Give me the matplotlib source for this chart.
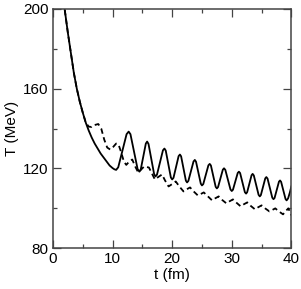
import matplotlib
matplotlib.use("Agg")
import matplotlib.pyplot as plt
from matplotlib.ticker import MultipleLocator

plt.rcParams['font.family'] = ['Liberation Sans', 'DejaVu Sans']

# solid curve: t (fm), T (MeV)
t_solid = [1.8, 2.0, 2.5, 3.0, 3.5, 4.0, 4.5, 5.0, 5.5, 6.0, 6.5, 7.0, 7.5, 8.0,
           8.5, 9.0, 9.5, 10.0, 10.3, 10.6, 10.95, 11.65, 12.35, 12.7,
           13.0, 13.6, 14.2, 14.5, 14.72, 15.15, 15.58, 15.8,
           16.03, 16.5, 16.97, 17.2, 17.45, 17.95, 18.45, 18.7,
           18.92, 19.35, 19.78, 20.0, 20.22, 20.65, 21.08, 21.3,
           21.5, 21.9, 22.3, 22.5, 22.72, 23.15, 23.58, 23.8,
           24.0, 24.4, 24.8, 25.0, 25.22, 25.65, 26.08, 26.3,
           26.5, 26.9, 27.3, 27.5, 27.7, 28.1, 28.5, 28.7,
           28.92, 29.35, 29.78, 30.0, 30.2, 30.6, 31.0, 31.2,
           31.4, 31.8, 32.2, 32.4, 32.58, 32.95, 33.32, 33.5,
           33.7, 34.1, 34.5, 34.7, 34.88, 35.25, 35.62, 35.8,
           36.0, 36.4, 36.8, 37.0, 37.18, 37.55, 37.92, 38.1,
           38.28, 38.65, 39.02, 39.2, 39.45, 39.75, 40.0]
T_solid = [204, 199, 188, 178, 168, 160, 153.5, 148, 143, 139, 135.5, 132.5, 130, 127.5,
           125.5, 123.5, 121.5, 120.2, 119.6, 119.3, 120.6, 128.9, 137.2, 138.5,
           137.2, 128.45, 119.7, 118.4, 119.4, 125.95, 132.5, 133.5,
           132.3, 124.75, 117.2, 116.0, 116.9, 123.0, 129.1, 130.0,
           129.0, 122.25, 115.5, 114.5, 115.3, 120.75, 126.2, 127.0,
           126.1, 120.0, 113.9, 113.0, 113.8, 118.65, 123.5, 124.3,
           123.4, 117.9, 112.4, 111.5, 112.2, 116.9, 121.6, 122.3,
           121.5, 116.15, 110.8, 110.0, 110.7, 115.05, 119.4, 120.1,
           119.3, 114.4, 109.5, 108.7, 109.35, 113.55, 117.75, 118.4,
           117.7, 112.9, 108.1, 107.4, 108.1, 112.35, 116.6, 117.3,
           116.5, 111.65, 106.8, 106.0, 106.65, 110.85, 115.05, 115.7,
           114.95, 110.15, 105.35, 104.6, 105.2, 109.3, 113.4, 114.0,
           113.3, 109.0, 104.7, 104.0, 105.0, 108.0, 111.0]

# dashed curve
t_dash = [1.8, 2.0, 2.5, 3.0, 3.5, 4.0, 4.5, 5.0, 5.5, 6.0, 6.5, 7.0, 7.6, 8.1,
          8.6, 9.1, 9.6, 10.1, 10.6, 11.0, 11.4, 11.9, 12.3, 12.8, 13.3, 13.8,
          14.3, 14.8, 15.3, 16.1, 16.6, 17.1, 17.7, 18.3, 18.8, 19.4, 20.0,
          20.6, 21.2, 21.9, 22.4, 23.0, 23.6, 24.3, 24.8, 25.3, 26.0, 26.7,
          27.2, 27.8, 28.4, 29.1, 29.6, 30.2, 30.8, 31.5, 32.0, 32.6, 33.2,
          33.9, 34.4, 35.0, 35.6, 36.3, 36.8, 37.3, 37.9, 38.6, 39.0, 39.5, 40.0]
T_dash = [204, 199, 188, 178, 168, 160, 153.5, 148, 143, 141.0, 140.8, 141.8, 142.3, 140.0,
          134.5, 130.5, 129.5, 130.8, 132.5, 132.0, 128.5, 123.5, 121.8, 123.5, 124.5, 121.0,
          118.0, 119.5, 121.0, 120.5, 117.5, 114.5, 115.8, 117.0, 114.0, 111.0, 112.2,
          113.5, 111.0, 108.5, 109.5, 110.5, 108.5, 106.5, 107.2, 108.0, 106.0, 104.0,
          105.0, 106.0, 104.2, 102.5, 103.5, 104.5, 102.8, 101.0, 102.0, 103.0, 101.2,
          99.5, 100.5, 101.5, 100.0, 98.5, 99.2, 100.0, 98.5, 97.0, 98.5, 100.0, 96.5]

fig = plt.figure(figsize=(3.01, 2.89), dpi=100)
ax = fig.add_axes([0.176, 0.141, 0.792, 0.828])

ax.plot(t_solid, T_solid, color='black', lw=1.3)
ax.plot(t_dash, T_dash, color='black', lw=1.3, dashes=(3.0, 2.0))

ax.set_xlim(0, 40)
ax.set_ylim(80, 200)
ax.xaxis.set_major_locator(MultipleLocator(10))
ax.xaxis.set_minor_locator(MultipleLocator(5))
ax.yaxis.set_major_locator(MultipleLocator(40))
ax.yaxis.set_minor_locator(MultipleLocator(20))

spine_col = '#444444'
for s in ax.spines.values():
    s.set_linewidth(1.1)
    s.set_color(spine_col)
ax.tick_params(which='both', direction='in', top=True, right=True,
               color=spine_col, width=0.9, labelsize=11, labelcolor='black')
ax.tick_params(which='major', length=5.8, pad=3)
ax.tick_params(which='minor', length=2.9)

ax.set_xlabel("t (fm)", fontsize=11, labelpad=1)
ax.set_ylabel("T (MeV)", fontsize=11, labelpad=3)

fig.savefig("out.png", dpi=100)
